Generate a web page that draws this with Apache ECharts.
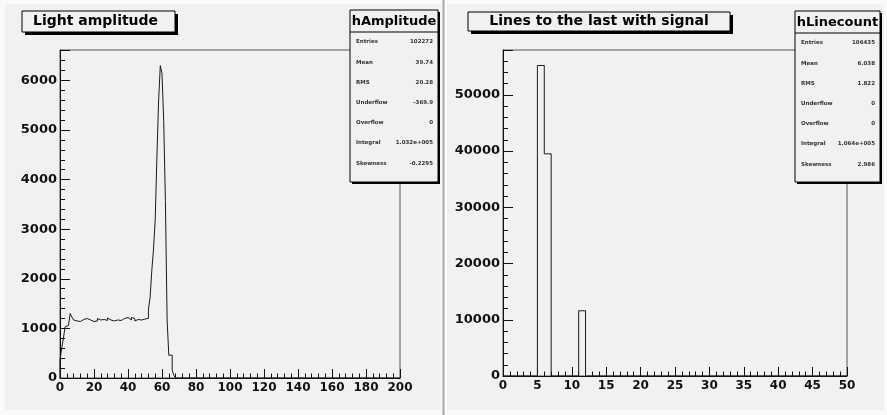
<!DOCTYPE html>
<html>
<head>
<meta charset="utf-8">
<script src="https://cdn.jsdelivr.net/npm/echarts@6/dist/echarts.min.js"></script>
<style>
  html, body { margin: 0; padding: 0; background: #fafafa; }
  #mainChart { width: 887px; height: 415px; }
</style>
</head>
<body>
<div id="mainChart"></div>
<script>
  // hAmplitude: 200 bins of width 1 on [0, 200]; bins past the last listed one are empty
  var ampNBins = 200;
  var ampCounts = [
    360, 600, 800, 1030, 1060, 1060, 1300, 1230, 1170, 1150,
    1160, 1140, 1170, 1180, 1160, 1200, 1230, 1170, 1180, 1140,
    1180, 1150, 1200, 1170, 1190, 1180, 1200, 1160, 1210, 1170,
    1180, 1150, 1140, 1170, 1190, 1160, 1180, 1200, 1190, 1220,
    1180, 1170, 1220, 1200, 1150, 1180, 1210, 1170, 1160, 1190,
    1150, 1200, 1370, 1630, 2170, 2600, 3180, 4450, 5590, 6300,
    6140, 5190, 3580, 1170, 460, 460, 160, 50, 0, 0
  ];
  var ampYMax = 6615;

  // hLinecount: 50 bins of width 1 on [0, 50], only these bins are filled
  var lineNBins = 50;
  var lineBins = [5, 6, 11];
  var lineCounts = [55200, 39500, 11600];
  var lineYMax = 57960;

  var statNames = ['Entries', 'Mean', 'RMS', 'Underflow', 'Overflow', 'Integral', 'Skewness'];
  var ampStats = ['102272', '39.74', '20.28', '-369.9', '0', '1.032e+005', '-0.2295'];
  var lineStats = ['106435', '6.038', '1.822', '0', '0', '1.064e+005', '2.986'];

  var FONT = '"DejaVu Sans", sans-serif';

  // outline of a histogram as a staircase: (edge, 0) up to each bin top and across
  function histOutline (counts, nbins) {
    var pts = [[0, 0]];
    for (var i = 0; i < nbins; i++) {
      var c = counts[i] || 0;
      pts.push([i, c]);
      pts.push([i + 1, c]);
    }
    pts.push([nbins, 0]);
    return pts;
  }

  var lineFull = [];
  for (var k = 0; k < lineNBins; k++) lineFull.push(0);
  lineBins.forEach(function (b, i) { lineFull[b] = lineCounts[i]; });

  function xAxisOpt (gridIndex, max, interval) {
    return {
      type: 'value', gridIndex: gridIndex, min: 0, max: max, interval: interval,
      axisLine: { lineStyle: { color: '#111', width: 1 } },
      axisTick: { inside: true, length: 9, lineStyle: { color: '#111' } },
      minorTick: { show: true, splitNumber: 5, length: 4.5, lineStyle: { color: '#111' } },
      splitLine: { show: false },
      axisLabel: { color: '#111', fontFamily: FONT, fontWeight: 'bold', fontSize: 12, margin: 4 }
    };
  }
  function yAxisOpt (gridIndex, max, interval) {
    return {
      type: 'value', gridIndex: gridIndex, min: 0, max: max, interval: interval,
      axisLine: { show: true, lineStyle: { color: '#111', width: 1 } },
      axisTick: { show: true, inside: true, length: 10, lineStyle: { color: '#111' } },
      minorTick: { show: true, splitNumber: 5, length: 5, lineStyle: { color: '#111' } },
      splitLine: { show: false },
      axisLabel: {
        color: '#111', fontFamily: FONT, fontWeight: 'bold', fontSize: 13, margin: 3,
        formatter: function (v) { return v % interval === 0 ? String(v) : ''; }
      }
    };
  }

  function titleBox (x, y, w, h, text, align) {
    return [
      { type: 'rect', z: 100, shape: { x: x + 3, y: y + 3, width: w, height: h }, style: { fill: '#000' } },
      { type: 'rect', z: 101, shape: { x: x, y: y, width: w, height: h }, style: { fill: '#f1f1f1', stroke: '#000', lineWidth: 1 } },
      { type: 'text', z: 102, x: align === 'center' ? x + w / 2 : x + 11, y: y + h / 2,
        style: { text: text, font: 'bold 14px ' + FONT, fill: '#000', align: align, verticalAlign: 'middle' } }
    ];
  }

  function statsBox (x, y, w, h, name, values) {
    var els = [
      { type: 'rect', z: 100, shape: { x: x + 2, y: y + 2, width: w, height: h }, style: { fill: '#000' } },
      { type: 'rect', z: 101, shape: { x: x, y: y, width: w, height: h }, style: { fill: '#f1f1f1', stroke: '#000', lineWidth: 1 } },
      { type: 'line', z: 102, shape: { x1: x, y1: y + 22, x2: x + w, y2: y + 22 }, style: { stroke: '#000', lineWidth: 1 } },
      { type: 'text', z: 102, x: x + w / 2, y: y + 11.5,
        style: { text: name, font: 'bold 13px ' + FONT, fill: '#000', align: 'center', verticalAlign: 'middle' } }
    ];
    statNames.forEach(function (s, i) {
      var ry = y + 32 + i * 20.2;
      els.push({ type: 'text', z: 102, x: x + 6, y: ry,
        style: { text: s, font: 'bold 5.5px ' + FONT, fill: '#333', align: 'left', verticalAlign: 'middle' } });
      els.push({ type: 'text', z: 102, x: x + w - 5, y: ry,
        style: { text: values[i], font: 'bold 5.5px ' + FONT, fill: '#333', align: 'right', verticalAlign: 'middle' } });
    });
    return els;
  }

  var graphics = [
    { type: 'rect', z: -10, shape: { x: 5, y: 4, width: 436, height: 406 }, style: { fill: '#f1f1f1' } },
    { type: 'rect', z: -10, shape: { x: 447, y: 4, width: 437, height: 406 }, style: { fill: '#f1f1f1' } },
    { type: 'line', z: -9, shape: { x1: 443.5, y1: 0, x2: 443.5, y2: 415 }, style: { stroke: '#a8a8a8', lineWidth: 2 } }
  ];
  graphics = graphics
    .concat(titleBox(22, 11, 153, 21, 'Light amplitude', 'left'))
    .concat(statsBox(350, 10, 88, 172, 'hAmplitude', ampStats))
    .concat(titleBox(468, 12, 262, 19, 'Lines to the last with signal', 'center'))
    .concat(statsBox(795, 11, 85, 171, 'hLinecount', lineStats));

  var myChart = echarts.init(document.getElementById('mainChart'));
  myChart.setOption({
    animation: false,
    backgroundColor: 'transparent',
    grid: [
      { left: 60, top: 50, width: 340, height: 328, show: true, borderColor: '#555', borderWidth: 1, backgroundColor: 'transparent' },
      { left: 503, top: 50, width: 344, height: 326, show: true, borderColor: '#555', borderWidth: 1, backgroundColor: 'transparent' }
    ],
    xAxis: [xAxisOpt(0, ampNBins, 20), xAxisOpt(1, lineNBins, 5)],
    yAxis: [yAxisOpt(0, ampYMax, 1000), yAxisOpt(1, lineYMax, 10000)],
    graphic: graphics,
    series: [
      {
        name: 'hAmplitude', type: 'line', xAxisIndex: 0, yAxisIndex: 0,
        data: histOutline(ampCounts, ampNBins), showSymbol: false, silent: true,
        lineStyle: { color: '#1a1a1a', width: 1 }
      },
      {
        name: 'hLinecount', type: 'line', xAxisIndex: 1, yAxisIndex: 1,
        data: histOutline(lineFull, lineNBins), showSymbol: false, silent: true,
        lineStyle: { color: '#1a1a1a', width: 1 }
      }
    ]
  });
</script>
</body>
</html>
